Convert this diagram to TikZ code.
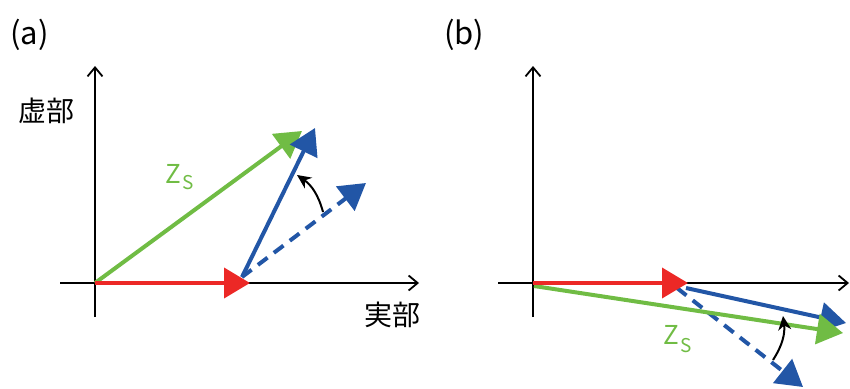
\documentclass[tikz,border=0pt]{standalone}
\usepackage{fontspec}
\setmainfont{Noto Sans CJK JP}
\usetikzlibrary{arrows.meta, positioning}
\definecolor{vecred}{RGB}{236,40,38}
\definecolor{vecgreen}{RGB}{112,188,68}
\definecolor{vecblue}{RGB}{34,86,166}
\newcommand{\zsub}[1]{{\fontsize{26}{28}\selectfont Z}\kern2pt\raisebox{-#1}{\fontsize{19}{20}\selectfont S}}

\begin{document}
\begin{tikzpicture}[
  x=1pt, y=-1pt,
  axis/.style={line width=1.8pt, -{Straight Barb[length=9pt,width=15pt]}},
  vector/.style={line width=4pt, -{Triangle[length=26pt,width=30pt]}},
  rotation/.style={line width=2pt, -{Stealth[length=14pt,width=13pt]}},
  tag/.style={inner sep=0pt, font=\fontsize{28}{30}\selectfont},
  panel/.style={inner sep=0pt, anchor=base west, font=\fontsize{31}{33}\selectfont},
  zs/.style={inner sep=0pt, text=vecgreen, anchor=base west}
]
\useasboundingbox (0,0) rectangle (850,388);

% Panel (a)
\node[panel] (taga) at (10,44) {(a)};
\coordinate (Oa) at (95,283);
\coordinate (Xa0) at (60,283);
\coordinate (Xa1) at (419,283);
\coordinate (Ya0) at (95,317);
\coordinate (Ya1) at (95,66);
\draw[axis] (Xa0) -- (Xa1);
\draw[axis] (Ya0) -- (Ya1);
\node[tag] (ima) at (46,111) {虚部};
\node[tag] (rea) at (392,315) {実部};

\coordinate (Ra) at (250,283);
\coordinate (Ga) at (302,131);
\coordinate (Ba) at (242,277);
\coordinate (BTa) at (315,128);
\coordinate (DTa) at (366,183);
\coordinate (Sa) at (323,212);
\coordinate (Ea) at (297,175);

% Vectors
\draw[vector, vecgreen] (Oa) -- (Ga);
\draw[vector, vecblue, dash pattern=on 12pt off 8pt] (Ba) -- (DTa);
\draw[vector, vecblue] (Ba) -- (BTa);
\draw[vector, vecred] (Oa) -- (Ra);
\draw[rotation] (Sa) to[bend right=20] (Ea);
\node[zs] (zsa) at (165,183) {\zsub{6pt}};

% Panel (b)
\node[panel] (tagb) at (444,44) {(b)};
\coordinate (Ob) at (533,283);
\coordinate (Xb0) at (498,283);
\coordinate (Xb1) at (849,283);
\coordinate (Yb0) at (533,317);
\coordinate (Yb1) at (533,66);
\draw[axis] (Xb0) -- (Xb1);
\draw[axis] (Yb0) -- (Yb1);

\coordinate (Rb) at (688,283);
\coordinate (Gb0) at (534,286);
\coordinate (Gb) at (843,333);
\coordinate (Bb) at (686,288);
\coordinate (BTb) at (846,323);
\coordinate (Db) at (677,288);
\coordinate (DTb) at (803,387);
\coordinate (Sb) at (773,360);
\coordinate (Eb) at (783,316);

% Vectors
\draw[vector, vecblue, dash pattern=on 12pt off 8pt] (Db) -- (DTb);
\draw[vector, vecblue] (Bb) -- (BTb);
\draw[vector, vecgreen] (Gb0) -- (Gb);
\draw[vector, vecred] (Ob) -- (Rb);
\draw[rotation] (Sb) to[bend right=20] (Eb);
\node[zs] (zsb) at (663,344) {\zsub{8pt}};

\end{tikzpicture}
\end{document}
